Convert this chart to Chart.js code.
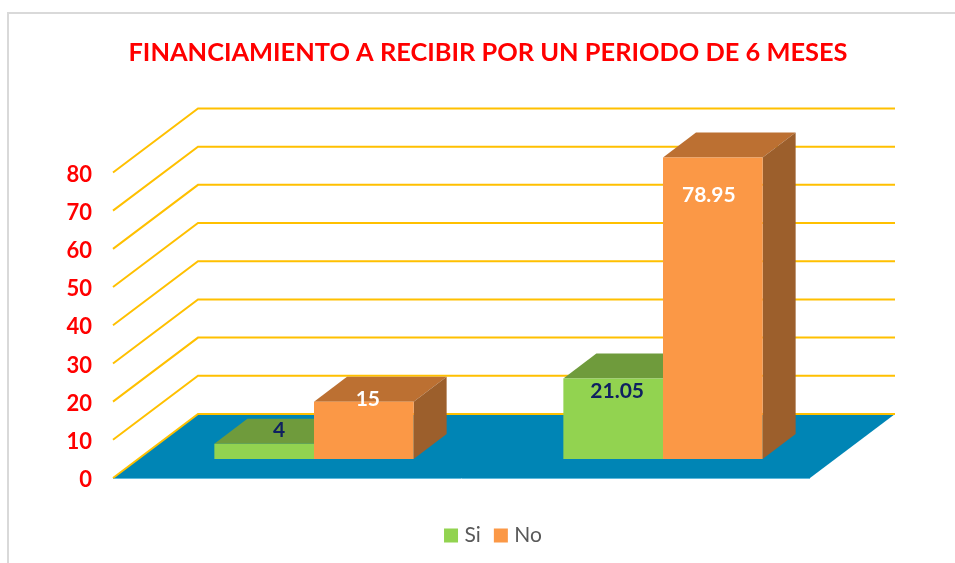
<!DOCTYPE html>
<html>
<head>
<meta charset="utf-8">
<script src="https://cdn.jsdelivr.net/npm/chart.js@4/dist/chart.umd.min.js"></script>
<style>
html,body{margin:0;padding:0;background:#fff;overflow:hidden}
#wrap{position:relative;width:955px;height:563px}
canvas{display:block}
</style>
</head>
<body>
<div id="wrap"><canvas id="c" width="955" height="563"></canvas></div>
<script>
const categories = ['Grupo 1', 'Grupo 2'];
const seriesSi = [4, 21.05];
const seriesNo = [15, 78.95];
const chartTitle = 'FINANCIAMIENTO A RECIBIR POR UN PERIODO DE 6 MESES';

const FONT = 'Lato, Carlito, Calibri, sans-serif';
const COLORS = {
  frame:'#d9d9d9', grid:'#ffc000', floor:'#0085b5', floorEdge:'#5fb9dc',
  si:{front:'#92d350', top:'#6f9b3c', side:'#5f8732'},
  no:{front:'#fb9846', top:'#bc7032', side:'#9c5f2c'}
};
const WALL = {dx:85, dy:-64, run:697};      // depth of the 3D box
const BAR_SHIFT = {dx:26.5, dy:-19};        // bars stand inside the floor
const BAR_DEPTH = {dx:33, dy:-25};
const TITLE_CENTER_X = 488;
const LEGEND_POS = {x:495, y:532};
// label nudges per dataset/point, relative to bar top centre
const LABEL_NUDGE = [[[15,-13],[4,13]],[[4,-2],[-4,38]]];
const LABEL_COLOR = ['#0f2060','#ffffff'];

const faces = [COLORS.si, COLORS.no];

const scene = {
  id:'scene',
  beforeDraw(chart){
    // pin title and legend
    const t = chart.titleBlock, l = chart.legend;
    if(!chart.$pinned){
      const tx = TITLE_CENTER_X-(t.left+t.right)/2;
      t.left+=tx; t.right+=tx;
      const dx = LEGEND_POS.x-(l.left+l.right)/2, dy = LEGEND_POS.y-(l.top+l.bottom)/2;
      l.left+=dx; l.right+=dx; l.top+=dy; l.bottom+=dy;
      chart.$pinned=true;
    }
    const c = chart.ctx;
    c.save();
    c.strokeStyle = COLORS.frame; c.lineWidth = 2;
    c.beginPath(); c.moveTo(8,563); c.lineTo(8,13); c.lineTo(955,13); c.stroke();
    c.restore();
  },
  beforeDatasetsDraw(chart){
    const c = chart.ctx, y = chart.scales.y, a = chart.chartArea;
    const y0 = y.getPixelForValue(0);
    c.save();
    // floor
    c.fillStyle = COLORS.floor;
    c.beginPath();
    c.moveTo(a.left,y0);
    c.lineTo(a.left+WALL.dx,y0+WALL.dy);
    c.lineTo(a.left+WALL.dx+WALL.run,y0+WALL.dy);
    c.lineTo(a.left+WALL.run,y0);
    c.closePath(); c.fill();
    c.strokeStyle = COLORS.floorEdge; c.lineWidth = 1;
    c.beginPath(); c.moveTo(a.left,y0+.5); c.lineTo(a.left+WALL.run,y0+.5); c.stroke();
    // gridlines on both walls
    c.strokeStyle = COLORS.grid; c.lineWidth = 2; c.lineJoin='miter';
    y.ticks.forEach(t=>{
      const py = y.getPixelForValue(t.value);
      c.beginPath();
      c.moveTo(a.left,py);
      c.lineTo(a.left+WALL.dx,py+WALL.dy);
      c.lineTo(a.left+WALL.dx+WALL.run,py+WALL.dy);
      c.stroke();
    });
    // top and side faces
    chart.data.datasets.forEach((ds,di)=>{
      chart.getDatasetMeta(di).data.forEach(el=>{
        const p = el.getProps(['x','y','base','width'],true);
        const L = p.x-p.width/2+BAR_SHIFT.dx, R = p.x+p.width/2+BAR_SHIFT.dx;
        const T = p.y+BAR_SHIFT.dy, B = p.base+BAR_SHIFT.dy;
        c.fillStyle = faces[di].top;
        c.beginPath(); c.moveTo(L,T); c.lineTo(L+BAR_DEPTH.dx,T+BAR_DEPTH.dy);
        c.lineTo(R+BAR_DEPTH.dx,T+BAR_DEPTH.dy); c.lineTo(R,T); c.closePath(); c.fill();
        c.fillStyle = faces[di].side;
        c.beginPath(); c.moveTo(R,T); c.lineTo(R+BAR_DEPTH.dx,T+BAR_DEPTH.dy);
        c.lineTo(R+BAR_DEPTH.dx,B+BAR_DEPTH.dy); c.lineTo(R,B); c.closePath(); c.fill();
      });
    });
    c.restore();
    c.save();
    c.translate(BAR_SHIFT.dx,BAR_SHIFT.dy);
  },
  afterDatasetsDraw(chart){
    const c = chart.ctx;
    c.restore();
    c.save();
    c.font = 'bold 21px '+FONT;
    c.textAlign='center'; c.textBaseline='middle';
    chart.data.datasets.forEach((ds,di)=>{
      chart.getDatasetMeta(di).data.forEach((el,i)=>{
        const p = el.getProps(['x','y'],true), n = LABEL_NUDGE[di][i];
        c.fillStyle = LABEL_COLOR[di];
        c.fillText(String(ds.data[i]), p.x+BAR_SHIFT.dx+n[0], p.y+BAR_SHIFT.dy+n[1]);
      });
    });
    c.restore();
  }
};

new Chart(document.getElementById('c'),{
  type:'bar',
  data:{
    labels:categories,
    datasets:[
      {label:'Si',data:seriesSi,backgroundColor:COLORS.si.front,clip:false,categoryPercentage:0.571,barPercentage:1},
      {label:'No',data:seriesNo,backgroundColor:COLORS.no.front,clip:false,categoryPercentage:0.571,barPercentage:1}
    ]
  },
  options:{
    responsive:false,
    animation:false,
    layout:{padding:{top:0,left:0,right:144,bottom:37}},
    scales:{
      x:{display:false},
      y:{
        min:0,max:80,
        afterFit(s){s.width=113;},
        grid:{display:false},
        border:{display:false},
        ticks:{stepSize:10,color:'#ff0000',padding:13,labelOffset:2,font:{family:FONT,size:22,weight:'bold'}}
      }
    },
    plugins:{
      tooltip:{enabled:false},
      title:{display:true,text:chartTitle,color:'#ff0000',
        font:{family:FONT,size:25.4,weight:'bold'},
        padding:{top:38,bottom:104}},
      legend:{
        display:true,position:'bottom',
        labels:{
          color:'#595959',font:{family:FONT,size:21},
          boxWidth:6,boxHeight:6,padding:17,
          generateLabels(chart){
            return Chart.defaults.plugins.legend.labels.generateLabels(chart).map(it=>{
              it.strokeStyle = it.fillStyle; it.lineWidth = 8; return it;
            });
          }
        }
      }
    }
  },
  plugins:[scene]
});
</script>
</body>
</html>
